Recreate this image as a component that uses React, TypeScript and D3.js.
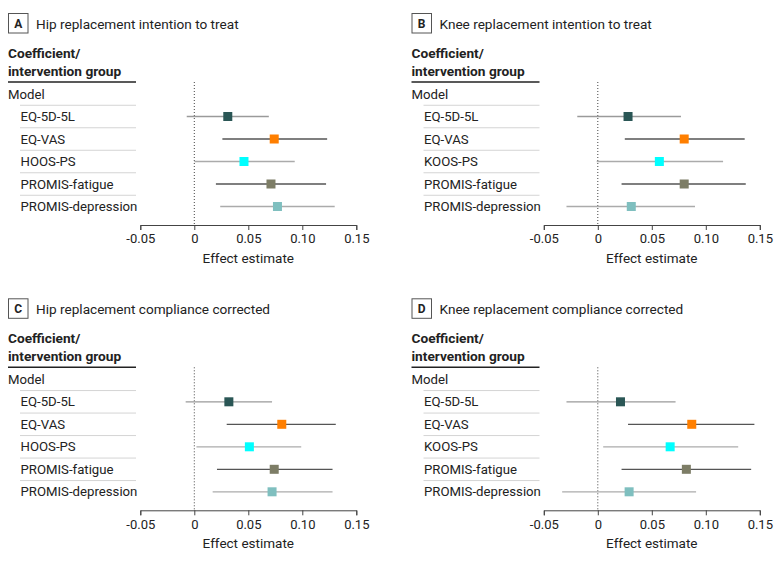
import * as d3 from "d3";
import { useRef, useEffect } from "react";

const hipMeasures: string[] = ["EQ-5D-5L", "EQ-VAS", "HOOS-PS", "PROMIS-fatigue", "PROMIS-depression"];
const kneeMeasures: string[] = ["EQ-5D-5L", "EQ-VAS", "KOOS-PS", "PROMIS-fatigue", "PROMIS-depression"];

// panel A
const hipIttEst: number[] = [0.031, 0.074, 0.046, 0.071, 0.077];
const hipIttLow: number[] = [-0.007, 0.026, 0.0, 0.02, 0.024];
const hipIttHigh: number[] = [0.069, 0.123, 0.093, 0.122, 0.13];
// panel B
const kneeIttEst: number[] = [0.028, 0.08, 0.057, 0.08, 0.031];
const kneeIttLow: number[] = [-0.019, 0.025, -0.001, 0.022, -0.029];
const kneeIttHigh: number[] = [0.077, 0.136, 0.116, 0.137, 0.09];
// panel C
const hipCcEst: number[] = [0.032, 0.081, 0.051, 0.074, 0.072];
const hipCcLow: number[] = [-0.008, 0.03, 0.002, 0.021, 0.017];
const hipCcHigh: number[] = [0.072, 0.131, 0.099, 0.128, 0.128];
// panel D
const kneeCcEst: number[] = [0.021, 0.087, 0.067, 0.082, 0.029];
const kneeCcLow: number[] = [-0.029, 0.028, 0.005, 0.022, -0.033];
const kneeCcHigh: number[] = [0.072, 0.145, 0.13, 0.142, 0.091];

const tickValues: number[] = [-0.05, 0, 0.05, 0.1, 0.15];
const tickLabels: string[] = ["-0.05", "0", "0.05", "0.10", "0.15"];

const markerColors: string[] = ["#2a5655", "#ff7f00", "#00ffff", "#7d7d66", "#7fbfbf"];
const lineColors: string[] = ["#9a9a9a", "#555555", "#ababab", "#555555", "#ababab"];

const FONT = "Roboto, 'Noto Sans', sans-serif";

interface PanelDef {
  letter: string;
  title: string;
  measures: string[];
  est: number[];
  low: number[];
  high: number[];
  dx: number;
  dy: number;
}

const panels: PanelDef[] = [
  { letter: "A", title: "Hip replacement intention to treat", measures: hipMeasures, est: hipIttEst, low: hipIttLow, high: hipIttHigh, dx: 0, dy: 0 },
  { letter: "B", title: "Knee replacement intention to treat", measures: kneeMeasures, est: kneeIttEst, low: kneeIttLow, high: kneeIttHigh, dx: 403.5, dy: 0 },
  { letter: "C", title: "Hip replacement compliance corrected", measures: hipMeasures, est: hipCcEst, low: hipCcLow, high: hipCcHigh, dx: 0, dy: 285.3 },
  { letter: "D", title: "Knee replacement compliance corrected", measures: kneeMeasures, est: kneeCcEst, low: kneeCcLow, high: kneeCcHigh, dx: 403.5, dy: 285.3 },
];

export default function App() {
  const svgRef: any = useRef();

  useEffect(() => {
    const svg = d3.select(svgRef.current);
    svg.selectAll("*").remove();

    const xScale = d3.scaleLinear().domain([-0.05, 0.15]).range([140.3, 356.3]);

    panels.forEach((p) => {
      const g = svg.append("g").attr("transform", `translate(${p.dx}, ${p.dy})`);
      const rows = ["Model", ...p.measures];
      const yScale = d3.scalePoint().domain(rows).range([94, 206.5]);

      // title box + title
      g.append("rect")
        .attr("x", 8.5).attr("y", 13.5).attr("width", 19.5).attr("height", 19.5)
        .attr("fill", "white").attr("stroke", "#555").attr("stroke-width", 1);
      g.append("text")
        .attr("x", 18.2).attr("y", 27.5).attr("text-anchor", "middle")
        .style("font-family", FONT).style("font-weight", 700).style("font-size", "12px")
        .attr("fill", "#222").text(p.letter);
      g.append("text")
        .attr("x", 36).attr("y", 28.5)
        .style("font-family", FONT).style("font-size", "13.6px")
        .attr("fill", "#222").text(p.title);

      // header
      g.append("text")
        .attr("x", 8).attr("y", 58)
        .style("font-family", FONT).style("font-weight", 700).style("font-size", "13.7px")
        .attr("fill", "#222").text("Coefficient/");
      g.append("text")
        .attr("x", 8).attr("y", 76)
        .style("font-family", FONT).style("font-weight", 700).style("font-size", "13.7px")
        .attr("fill", "#222").text("intervention group");
      g.append("line")
        .attr("x1", 8).attr("x2", 136).attr("y1", 82).attr("y2", 82)
        .attr("stroke", "#222").attr("stroke-width", 1.5);

      // row labels
      g.selectAll(".rowlabel")
        .data(rows)
        .join("text")
        .attr("x", (d, i) => (i === 0 ? 8 : 20.5))
        .attr("y", (d) => (yScale(d) as number) + 4.7)
        .style("font-family", FONT).style("font-size", "13.2px")
        .attr("fill", "#222")
        .text((d) => d);

      // row separators
      g.selectAll(".sep")
        .data(p.measures)
        .join("line")
        .attr("x1", 20).attr("x2", 136)
        .attr("y1", (d) => (yScale(d) as number) - 11.25)
        .attr("y2", (d) => (yScale(d) as number) - 11.25)
        .attr("stroke", "#d4d4d4").attr("stroke-width", 1);

      // zero line
      g.append("line")
        .attr("x1", xScale(0)).attr("x2", xScale(0))
        .attr("y1", 82).attr("y2", 225)
        .attr("stroke", "#444").attr("stroke-width", 1)
        .attr("stroke-dasharray", "1,2");

      // CI lines
      g.selectAll(".ci")
        .data(p.measures)
        .join("line")
        .attr("x1", (d, i) => xScale(p.low[i]))
        .attr("x2", (d, i) => xScale(p.high[i]))
        .attr("y1", (d) => yScale(d) as number)
        .attr("y2", (d) => yScale(d) as number)
        .attr("stroke", (d, i) => lineColors[i])
        .attr("stroke-width", 1.3);

      // markers
      const s = 9;
      g.selectAll(".pt")
        .data(p.measures)
        .join("rect")
        .attr("x", (d, i) => xScale(p.est[i]) - s / 2)
        .attr("y", (d) => (yScale(d) as number) - s / 2)
        .attr("width", s).attr("height", s)
        .attr("fill", (d, i) => markerColors[i]);

      // axis
      const xAxis = d3
        .axisBottom(xScale)
        .tickValues(tickValues)
        .tickSizeOuter(0)
        .tickSize(5)
        .tickFormat((d: any, i: number) => tickLabels[i]);
      const ax = g.append("g").attr("transform", "translate(0, 225)").call(xAxis as any);
      ax.select(".domain").attr("stroke", "#444");
      ax.selectAll(".tick line").attr("stroke", "#444");
      ax.selectAll(".tick text")
        .attr("y", 9)
        .style("font-family", FONT).style("font-size", "13px")
        .attr("fill", "#222");

      g.append("text")
        .attr("x", xScale(0.05)).attr("y", 263)
        .attr("text-anchor", "middle")
        .style("font-family", FONT).style("font-size", "13.5px")
        .attr("fill", "#222").text("Effect estimate");
    });
  }, []);

  return (
    <div style={{ position: "absolute", left: 0, top: 0, width: 780, height: 562, background: "white" }}>
      <svg ref={svgRef} width={780} height={562}></svg>
    </div>
  );
}
